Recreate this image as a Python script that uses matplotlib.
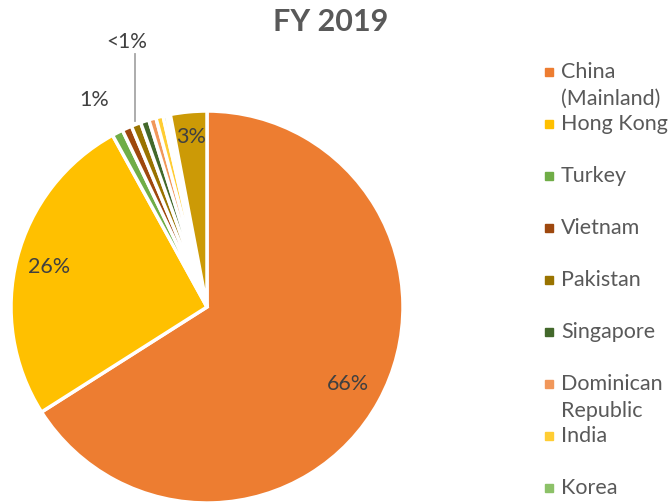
import numpy as np
import matplotlib.pyplot as plt

# shares of FY 2019 (percent), clockwise from 12 o'clock
countries = ["China\n(Mainland)", "Hong Kong", "Turkey", "Vietnam", "Pakistan",
             "Singapore", "Dominican\nRepublic", "India", "Korea", "Other Asia", "Others"]
shares = [66.0, 26.0, 0.9, 0.8, 0.8, 0.7, 0.6, 0.6, 0.3, 0.3, 3.0]
colors = ["#ED7D31", "#FFC000", "#70AD47", "#9E480E", "#997300", "#43682B",
          "#F1975A", "#FFCD33", "#8CC168", "#FFFFFF", "#CC9A06"]
# label text per slice ("" = no label), with radius as fraction of pie radius
slice_labels = ["66%", "26%", "1%", "", "<1%", "", "", "", "", "", "3%"]
label_radius = [0.82, 0.83, 1.19, 0, 1.42, 0, 0, 0, 0, 0, 0.87]
n_legend = 9  # the rest of the legend falls off the picture

W, H = 671, 503
fig = plt.figure(figsize=(W / 100, H / 100), dpi=100)
plt.rcParams['font.family'] = ['Lato', 'DejaVu Sans']
txt_col = "#595959"

cx, cy, R = 207, 307, 196
ax = fig.add_axes([(cx - R) / W, (H - cy - R) / H, 2 * R / W, 2 * R / H])
wedges, _ = ax.pie(shares, colors=colors, startangle=90, counterclock=False,
                   wedgeprops=dict(edgecolor="white", linewidth=2.5))
ax.set_xlim(-1, 1)
ax.set_ylim(-1, 1)
ax.set_aspect("equal")
ax.axis("off")

for w, lab, r in zip(wedges, slice_labels, label_radius):
    if not lab:
        continue
    mid = np.deg2rad((w.theta1 + w.theta2) / 2)
    if lab == "<1%":
        # leader line going straight up from the rim
        x0 = np.cos(mid) * 1.02
        y0 = np.sin(mid) * 1.02
        ax.plot([x0, x0], [y0, 1.29], color="#A6A6A6", lw=1.3, clip_on=False)
        ax.text(x0 - 0.04, 1.35, lab, ha="center", va="center", fontsize=15,
                color="#404040", clip_on=False)
        continue
    ax.text(np.cos(mid) * r - (0.03 if lab == "1%" else 0), np.sin(mid) * r,
            lab, ha="center", va="center", fontsize=15.5, color="#404040",
            clip_on=False)

fig.text(331 / W, 1 - 22 / H, "FY 2019", ha="center", va="center",
         fontsize=22, fontweight="bold", color=txt_col)

# legend drawn by hand: one slot of 52 px per entry
for i in range(n_legend):
    y = 72 + 52 * i
    fig.patches.append(plt.Rectangle(((545) / W, 1 - (y + 4) / H), 8 / W, 8 / H,
                                     transform=fig.transFigure, color=colors[i]))
    for k, line in enumerate(countries[i].split("\n")):
        fig.text(561 / W, 1 - (y + 27 * k) / H, line, ha="left", va="center",
                 fontsize=15.5, color=txt_col)

fig.savefig("out.png", dpi=100)
